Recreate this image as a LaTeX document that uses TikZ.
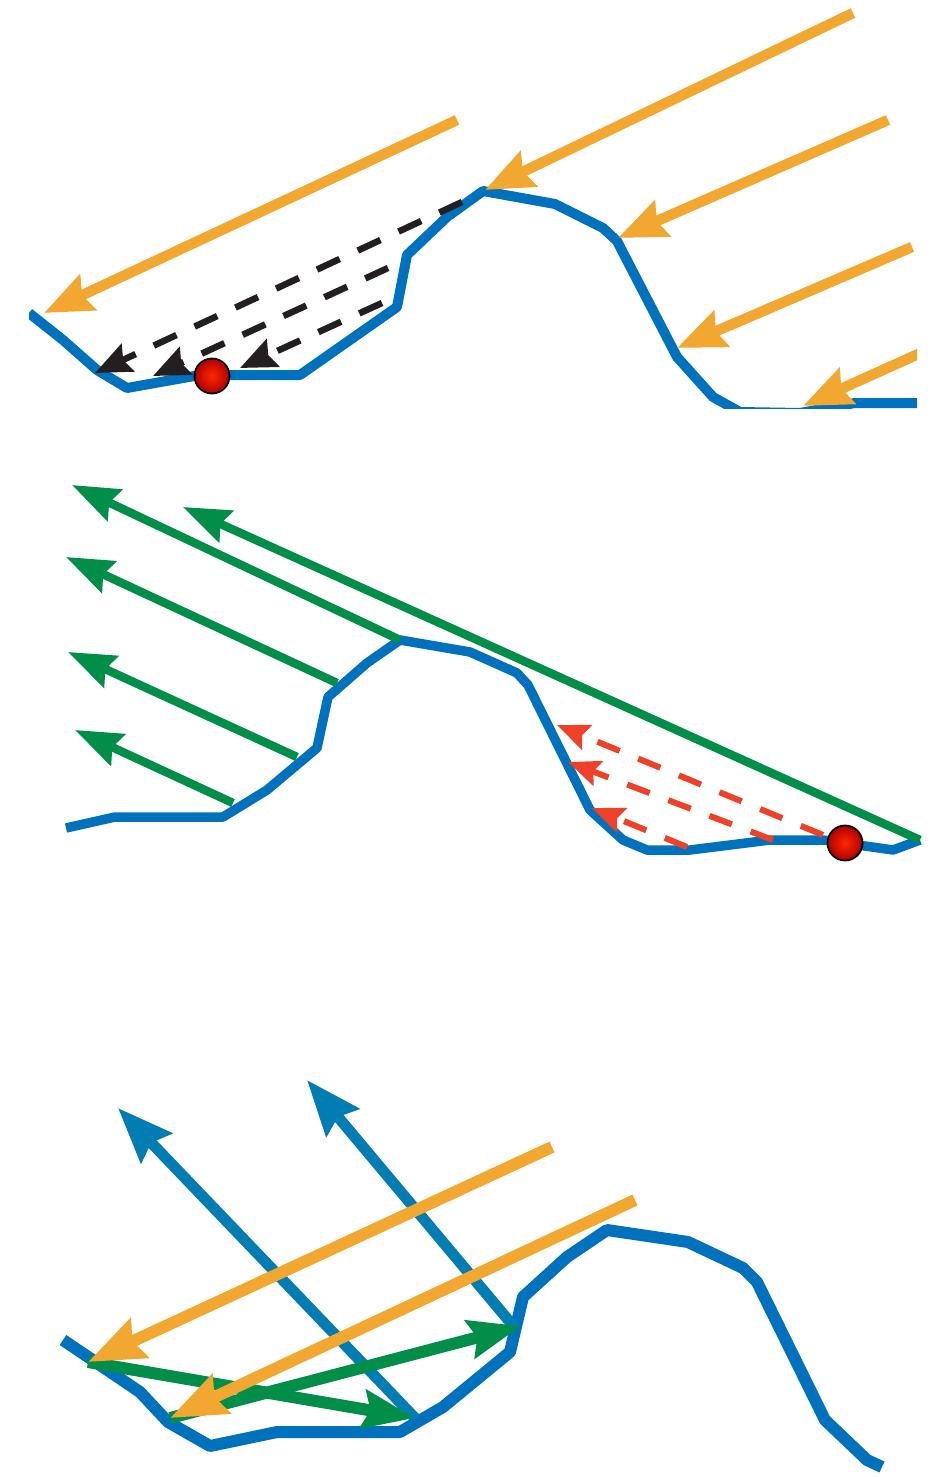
\documentclass[tikz,border=0pt]{standalone}
\usetikzlibrary{arrows.meta}
\definecolor{terrain}{RGB}{0,113,188}
\definecolor{sun}{RGB}{241,167,48}
\definecolor{leaf}{RGB}{0,142,72}
\definecolor{sky}{RGB}{1,125,180}
\definecolor{ink}{RGB}{35,31,32}
\definecolor{flame}{RGB}{238,65,40}
\tikzset{
  ground/.style={draw=terrain, line width=10pt, line join=round},
  sunray/.style={draw=sun, line width=10.5pt, -{Stealth[length=48pt,width=38pt,inset=6pt]}},
  bigsunray/.style={draw=sun, line width=12pt, -{Stealth[length=56pt,width=42pt,inset=7pt]}},
  shadowray/.style={draw=ink, line width=6.5pt, dash pattern=on 25pt off 20pt, -{Stealth[length=36pt,width=30pt,inset=5pt]}},
  leafray/.style={draw=leaf, line width=8.5pt, -{Stealth[length=47pt,width=34pt,inset=6pt]}},
  bigleafray/.style={draw=leaf, line width=12pt, -{Stealth[length=52pt,width=38pt,inset=7pt]}},
  flameray/.style={draw=flame, line width=6pt, dash pattern=on 24pt off 20pt, -{Stealth[length=32pt,width=26pt,inset=5pt]}},
  skyray/.style={draw=sky, line width=11pt, -{Stealth[length=55pt,width=42pt,inset=7pt]}},
  probe/.style={draw=black, line width=1.8pt, inner color={rgb,255:red,255;green,40;blue,0}, outer color={rgb,255:red,175;green,0;blue,0}}
}
\begin{document}
\begin{tikzpicture}[x=1pt,y=-1pt]
\useasboundingbox (0,0) rectangle (935,1477);

% ---------- upper panel: incoming rays and shadowed hollow ----------
\begin{scope}
\clip (29,0) rectangle (917,408);
\draw[ground] (29,313) -- (63,340) -- (97,370) -- (127,388) -- (200,375) -- (300,375)
  -- (397,307) -- (407,255) -- (447,217) -- (483,191) -- (555,204) -- (603,228)
  -- (617,241) -- (677,357) -- (713,397) -- (740,412) -- (800,413) -- (855,403) -- (917,403);
\coordinate (a1s) at (457,120); \coordinate (a1t) at (44,313);
\coordinate (a2s) at (853,13);  \coordinate (a2t) at (485,190);
\coordinate (a3s) at (888,120); \coordinate (a3t) at (618,238);
\coordinate (a4s) at (912,247); \coordinate (a4t) at (677,348);
\coordinate (a5s) at (925,351); \coordinate (a5t) at (803,406);
\draw[shadowray] (462,202) -- (95,373);
\draw[shadowray] (388,268) -- (153,376);
\draw[shadowray] (382,303) -- (240,368);
\draw[sunray] (a1s) -- (a1t);
\draw[sunray] (a2s) -- (a2t);
\draw[sunray] (a3s) -- (a3t);
\draw[sunray] (a4s) -- (a4t);
\draw[sunray] (a5s) -- (a5t);
\end{scope}
\shadedraw[probe] (212,376) circle (17.5pt);

% ---------- middle panel: outgoing rays and blocked view ----------
\draw[ground, line width=9.5pt] (66,828) -- (115,817) -- (223,817) -- (267,790) -- (317,748) -- (328,697)
  -- (367,663) -- (400,640) -- (470,652) -- (517,673) -- (528,685) -- (590,810)
  -- (623,840) -- (647,850) -- (690,850) -- (770,840) -- (823,840) -- (893,850) -- (920,840);
\draw[leafray] (920,840) -- (183,507);
\draw[leafray] (400,640) -- (72,485);
\draw[leafray] (337,683) -- (66,557);
\draw[leafray] (297,757) -- (68,652);
\draw[leafray] (233,803) -- (75,730);
\draw[flameray] (823,835) -- (557,725);
\draw[flameray] (773,840) -- (568,762);
\draw[flameray] (687,847) -- (592,808);
\shadedraw[probe] (845,843) circle (17.5pt);

% ---------- lower panel: multiple reflections in the hollow ----------
\draw[ground, line width=12pt] (63,1340) -- (140,1392) -- (168,1422) -- (210,1446) -- (277,1432)
  -- (400,1432) -- (443,1407) -- (510,1352) -- (523,1297) -- (567,1257) -- (607,1230)
  -- (688,1242) -- (743,1268) -- (757,1282) -- (825,1420) -- (867,1460) -- (882,1467);
\coordinate (p1) at (88,1362);
\coordinate (p2) at (170,1418);
\coordinate (q1) at (415,1418);
\coordinate (q2) at (521,1326);
\draw[skyray] (q1) -- (118,1108);
\draw[skyray] (515,1328) -- (307,1080);
\draw[bigleafray] (p1) -- (q1);
\draw[bigleafray] (p2) -- (q2);
\draw[bigsunray] (552,1147) -- (p1);
\draw[bigsunray] (635,1200) -- (p2);
\end{tikzpicture}
\end{document}
